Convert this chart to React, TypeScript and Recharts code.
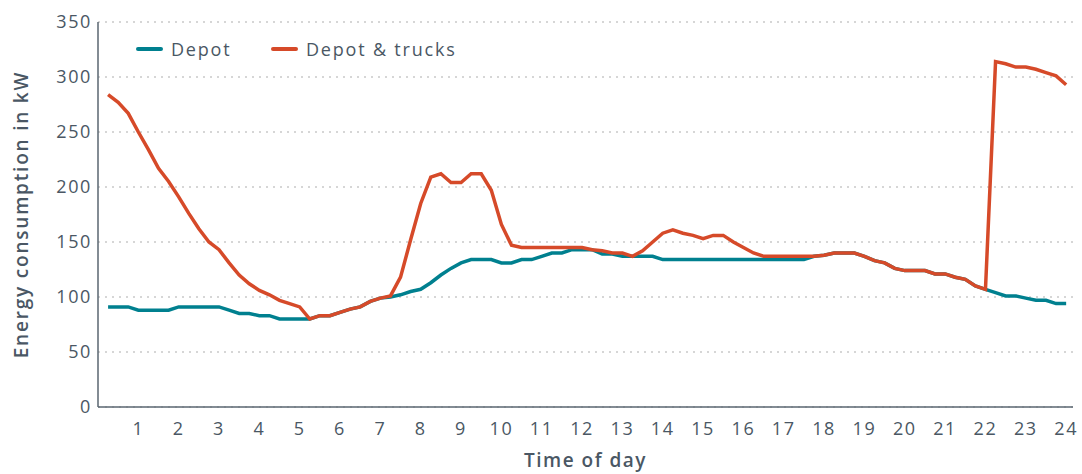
import { LineChart, Line, XAxis, YAxis, CartesianGrid } from 'recharts'

// 15-minute readings, 00:15 .. 24:00
const depot = [
  91, 91, 91, 88, 88, 88, 88, 91, 91, 91, 91, 91, 88, 85, 85, 83,
  83, 80, 80, 80, 80, 83, 83, 86, 89, 91, 96, 99, 100, 102, 105, 107,
  113, 120, 126, 131, 134, 134, 134, 131, 131, 134, 134, 137, 140, 140, 143, 143,
  143, 139, 139, 137, 137, 137, 137, 134, 134, 134, 134, 134, 134, 134, 134, 134,
  134, 134, 134, 134, 134, 134, 137, 138, 140, 140, 140, 137, 133, 131, 126, 124,
  124, 124, 121, 121, 118, 116, 110, 107, 104, 101, 101, 99, 97, 97, 94, 94,
]

const depotTrucks = [
  284, 277, 267, 250, 234, 217, 205, 191, 176, 162, 150, 143, 131, 120, 112, 106,
  102, 97, 94, 91, 80, 83, 83, 86, 89, 91, 96, 99, 101, 118, 152, 185,
  209, 212, 204, 204, 212, 212, 197, 166, 147, 145, 145, 145, 145, 145, 145, 145,
  143, 142, 140, 140, 137, 142, 150, 158, 161, 158, 156, 153, 156, 156, 150, 145,
  140, 137, 137, 137, 137, 137, 137, 138, 140, 140, 140, 137, 133, 131, 126, 124,
  124, 124, 121, 121, 118, 116, 110, 107, 314, 312, 309, 309, 307, 304, 301, 293,
]

const hourTicks = [1, 2, 3, 4, 5, 6, 7, 8, 9, 10, 11, 12, 13, 14, 15, 16, 17, 18, 19, 20, 21, 22, 23, 24]
const kwTicks = [0, 50, 100, 150, 200, 250, 300, 350]

const data = depot.map((v, i) => ({
  time: (i + 1) * 0.25,
  depot: v,
  depotTrucks: depotTrucks[i],
}))

const TEAL = '#00808f'
const RED = '#d64a29'
const TEXT = '#4a5764'
const AXIS = '#5a6670'
const FONT = '"Open Sans", sans-serif'

const tickStyle = { fill: TEXT, fontSize: 18, fontFamily: FONT, letterSpacing: 1.6 }

export default function App() {
  return (
    <div style={{ position: 'absolute', left: 0, top: 0, width: 1082, height: 474, fontFamily: FONT, background: '#fff' }}>
      <LineChart width={1082} height={474} data={data} margin={{ top: 22, right: 9, bottom: 0, left: 0 }}>
        <CartesianGrid vertical={false} stroke="#c9c9c9" strokeDasharray="2 5" strokeWidth={1.5} />
        <XAxis
          dataKey="time"
          type="number"
          domain={[0, 24.17]}
          ticks={hourTicks}
          interval={0}
          height={67}
          axisLine={{ stroke: AXIS, strokeWidth: 1.5 }}
          tickLine={false}
          tickSize={0}
          tickMargin={15}
          tick={tickStyle}
          label={{ value: 'Time of day', position: 'insideBottom', offset: 7, fill: TEXT, fontSize: 19, fontWeight: 600, fontFamily: FONT, letterSpacing: 1.5 }}
        />
        <YAxis
          domain={[0, 350]}
          ticks={kwTicks}
          width={98}
          axisLine={{ stroke: AXIS, strokeWidth: 1.5 }}
          tickLine={false}
          tickSize={0}
          tickMargin={6}
          tick={tickStyle}
          label={{
            value: 'Energy consumption in kW',
            angle: -90,
            position: 'insideLeft',
            offset: 21,
            fill: TEXT,
            fontSize: 19,
            fontWeight: 600,
            fontFamily: FONT,
            letterSpacing: 1.8,
            style: { textAnchor: 'middle' },
          }}
        />
        <Line type="linear" dataKey="depot" stroke={TEAL} strokeWidth={3.5} dot={false} isAnimationActive={false} />
        <Line type="linear" dataKey="depotTrucks" stroke={RED} strokeWidth={3.5} dot={false} isAnimationActive={false} />
      </LineChart>

      {/* legend sits inside the plot, top left */}
      <div style={{ position: 'absolute', left: 136, top: 37, display: 'flex', alignItems: 'center', color: TEXT, fontSize: 18, letterSpacing: 1.8 }}>
        <span style={{ width: 27, height: 4, borderRadius: 2, background: TEAL, display: 'inline-block' }} />
        <span style={{ marginLeft: 8, width: 100 }}>Depot</span>
        <span style={{ width: 27, height: 4, borderRadius: 2, background: RED, display: 'inline-block' }} />
        <span style={{ marginLeft: 8 }}>Depot &amp; trucks</span>
      </div>
    </div>
  )
}
